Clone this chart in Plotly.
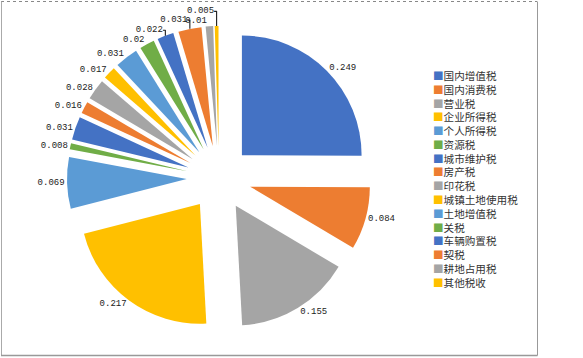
import plotly.graph_objects as go

categories = ["国内增值税", "国内消费税", "营业税", "企业所得税", "个人所得税", "资源税",
              "城市维护税", "房产税", "印花税", "城镇土地使用税", "土地增值税", "关税",
              "车辆购置税", "契税", "耕地占用税", "其他税收"]
values = [0.249, 0.084, 0.155, 0.217, 0.069, 0.008, 0.031, 0.016, 0.028, 0.017,
          0.031, 0.02, 0.022, 0.031, 0.01, 0.005]
palette = ["#4472C4", "#ED7D31", "#A5A5A5", "#FFC000", "#5B9BD5", "#70AD47"]
colors = [palette[i % 6] for i in range(len(values))]

W, H = 583, 358
n = len(values)
# the two tiniest slices get their labels from an overlay copy of the pie,
# so that their labels are placed independently (as in the reference)
overlay_idx = {n - 2, n - 1}

common = dict(
    labels=categories,
    values=values,
    sort=False,
    direction="clockwise",
    rotation=0,
    pull=0.27,
    texttemplate="%{value}",
    automargin=False,
    textfont=dict(family="Liberation Mono", size=9, color="#222222"),
    domain=dict(x=[67 / W, 371 / W], y=[1 - 330 / H, 1 - 26 / H]),
    showlegend=False,
)

fig = go.Figure()
fig.add_trace(go.Pie(
    marker=dict(colors=colors, line=dict(width=0)),
    textposition=["none" if i in overlay_idx else "outside" for i in range(n)],
    hoverinfo="label+value",
    **common,
))
fig.add_trace(go.Pie(
    marker=dict(colors=["rgba(0,0,0,0)"] * n, line=dict(width=0)),
    textposition=["outside" if i in overlay_idx else "none" for i in range(n)],
    hoverinfo="skip",
    **common,
))

legend_lines = [
    f"<span style='color:{c}'>■</span>{name}" for c, name in zip(colors, categories)
]
fig.add_annotation(
    text="<br>".join(legend_lines),
    xref="paper", yref="paper",
    x=431 / W, y=1 - 66 / H,
    xanchor="left", yanchor="top", align="left",
    showarrow=False,
    font=dict(family="Noto Sans CJK SC", size=10.6, color="#333333"),
)

# chart frame
fig.add_shape(type="line", xref="paper", yref="paper", x0=1 / W, x1=537 / W,
              y0=1 - 1.5 / H, y1=1 - 1.5 / H, line=dict(color="#888888", width=1, dash="dot"))
fig.add_shape(type="line", xref="paper", yref="paper", x0=1.5 / W, x1=1.5 / W,
              y0=1 - 1.5 / H, y1=1 - 355.5 / H, line=dict(color="#AAAAAA", width=1))
fig.add_shape(type="line", xref="paper", yref="paper", x0=537.5 / W, x1=537.5 / W,
              y0=1 - 1.5 / H, y1=1 - 355.5 / H, line=dict(color="#999999", width=1))
fig.add_shape(type="line", xref="paper", yref="paper", x0=1 / W, x1=537.5 / W,
              y0=1 - 355.5 / H, y1=1 - 355.5 / H, line=dict(color="#999999", width=1.5))

fig.update_layout(
    width=W, height=H,
    margin=dict(l=0, r=0, t=0, b=0, autoexpand=False),
    paper_bgcolor="white",
    plot_bgcolor="white",
)

fig.write_html(
    "out.html",
    config={"displayModeBar": False},
    post_script="document.body.style.margin='0';document.body.style.overflow='hidden';",
)
